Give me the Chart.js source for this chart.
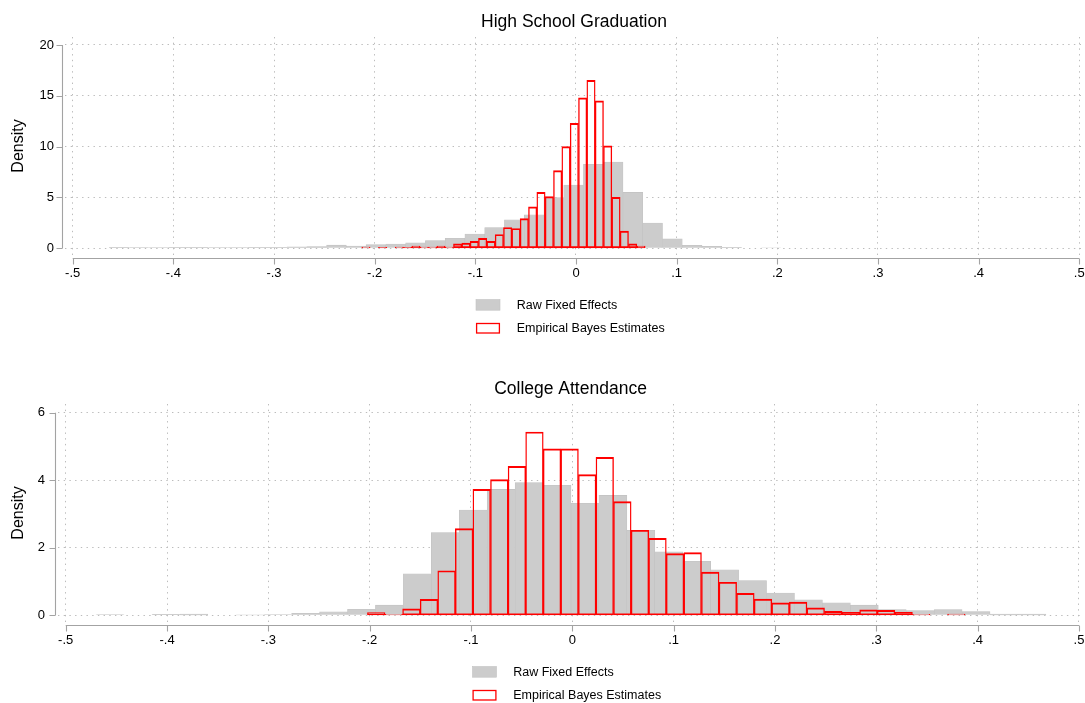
<!DOCTYPE html>
<html>
<head>
<meta charset="utf-8">
<title>School effects: raw vs. empirical Bayes</title>
<script src="https://cdn.jsdelivr.net/npm/chart.js@4.4.1/dist/chart.umd.min.js"></script>
<style>
  html, body { margin: 0; padding: 0; background: #ffffff; }
  #wrap { position: relative; width: 1085px; height: 703px; overflow: hidden; }
  .panel { position: absolute; left: 0; width: 1085px; }
  canvas { display: block; }
</style>
</head>
<body>
<div id="wrap">
  <div class="panel" style="top:0;height:367px"><canvas id="hsChart" width="1085" height="367"></canvas></div>
  <div class="panel" style="top:367px;height:336px"><canvas id="caChart" width="1085" height="336"></canvas></div>
</div>
<script>
// ---- axis ticks and labels ----
const xTickValues = [-0.5, -0.4, -0.3, -0.2, -0.1, 0, 0.1, 0.2, 0.3, 0.4, 0.5];
const xTickLabels = ['-.5', '-.4', '-.3', '-.2', '-.1', '0', '.1', '.2', '.3', '.4', '.5'];
const hsYTicks = [0, 5, 10, 15, 20];
const caYTicks = [0, 2, 4, 6];
const seriesLabels = ['Raw Fixed Effects', 'Empirical Bayes Estimates'];
const panelTitles = ['High School Graduation', 'College Attendance'];

// ---- High school graduation: 34 bins each ----
const hsRawStart = -0.4637, hsRawWidth = 0.01963;
const hsRawDensity = [0.10, 0.08, 0.06, 0.10, 0.10, 0.07, 0.08, 0.10, 0.10, 0.15,
                      0.17, 0.31, 0.22, 0.36, 0.42, 0.54, 0.77, 0.99, 1.41, 2.04,
                      2.79, 3.29, 4.98, 6.23, 8.26, 8.49, 5.50, 2.49, 0.92, 0.30,
                      0.20, 0.10, 0.00, 0.05];
const hsEbStart = -0.2128, hsEbWidth = 0.00828;
const hsEbDensity = [0.13, 0.00, 0.10, 0.00, 0.13, 0.10, 0.23, 0.13, 0.13, 0.23,
                     0.13, 0.43, 0.52, 0.68, 0.98, 0.69, 1.36, 2.05, 1.95, 2.93,
                     4.08, 5.51, 5.09, 7.64, 10.00, 12.30, 14.80, 16.52, 14.50, 10.07,
                     5.02, 1.70, 0.43, 0.23];

// ---- College attendance: 34 bins each ----
const caRawStart = -0.4700, caRawWidth = 0.02757;
const caRawDensity = [0.02, 0.00, 0.03, 0.04, 0.00, 0.01, 0.02, 0.06, 0.10, 0.18,
                      0.30, 1.23, 2.45, 3.12, 3.73, 3.93, 3.85, 3.32, 3.55, 2.52,
                      1.88, 1.60, 1.35, 1.03, 0.66, 0.46, 0.37, 0.30, 0.17, 0.14,
                      0.17, 0.11, 0.04, 0.04];
const caEbStart = -0.2022, caEbWidth = 0.01735;
const caEbDensity = [0.08, 0.03, 0.19, 0.47, 1.32, 2.57, 3.73, 4.02, 4.41, 5.43,
                     4.93, 4.93, 4.17, 4.68, 3.37, 2.52, 2.28, 1.83, 1.86, 1.28,
                     0.98, 0.65, 0.48, 0.37, 0.39, 0.22, 0.12, 0.09, 0.16, 0.15,
                     0.09, 0.03, 0.00, 0.04];

// ---- styling ----
const FONT = '"Liberation Sans", Arial, Helvetica, sans-serif';
const rawFill = '#cccccc';
const rawEdge = '#c2c2c2';
const ebEdge = '#ff0000';
const gridColor = '#bcbcbc';
const axisColor = '#a3a3a3';

Chart.defaults.font.family = FONT;
Chart.defaults.color = '#000000';

// Histogram bars are placed at bin midpoints on a linear x scale.
function binPoints(start, width, dens) {
  return dens.map((d, i) => ({ x: start + (i + 0.5) * width, y: d }));
}

// Detached axis lines with outward tick marks, spanning only the labelled range.
const detachedAxes = {
  id: 'detachedAxes',
  afterDraw(chart, args, opts) {
    const { ctx, chartArea: a } = chart;
    const xs = chart.scales.x, ys = chart.scales.y;
    const yv = ys.ticks.map(t => t.value);
    const xv = xs.ticks.map(t => t.value);
    ctx.save();
    ctx.strokeStyle = opts.color;
    ctx.lineWidth = 1.1;
    ctx.beginPath();
    const ax = Math.round(a.left - opts.gap) - 0.5;
    ctx.moveTo(ax, ys.getPixelForValue(yv[0]));
    ctx.lineTo(ax, ys.getPixelForValue(yv[yv.length - 1]));
    yv.forEach(v => {
      const p = Math.round(ys.getPixelForValue(v)) + 0.5;
      ctx.moveTo(ax, p);
      ctx.lineTo(ax - opts.tick, p);
    });
    const ay = Math.round(a.bottom + opts.gapX) + 0.5;
    ctx.moveTo(xs.getPixelForValue(xv[0]), ay);
    ctx.lineTo(xs.getPixelForValue(xv[xv.length - 1]), ay);
    xv.forEach(v => {
      const p = Math.round(xs.getPixelForValue(v)) + 0.5;
      ctx.moveTo(p, ay);
      ctx.lineTo(p, ay + opts.tick);
    });
    ctx.stroke();
    ctx.restore();
  }
};

// Two-row key under the plot: filled swatch for raw effects, outlined swatch for EB estimates.
const stackedKey = {
  id: 'stackedKey',
  afterDraw(chart, args, opts) {
    const { ctx, chartArea: a } = chart;
    const ds = chart.data.datasets;
    const left = (a.left + a.right) / 2 - opts.shift;
    ctx.save();
    ctx.font = opts.fontSize + 'px ' + FONT;
    ctx.textBaseline = 'middle';
    ctx.textAlign = 'left';
    ds.forEach((d, i) => {
      const top = a.bottom + opts.offset + i * opts.rowGap;
      if (i === 0) {
        ctx.fillStyle = d.backgroundColor;
        ctx.fillRect(left, top, opts.boxW, opts.boxH);
        ctx.strokeStyle = d.borderColor;
        ctx.lineWidth = 0.6;
        ctx.strokeRect(left, top, opts.boxW, opts.boxH);
      } else {
        ctx.fillStyle = '#ffffff';
        ctx.fillRect(left, top, opts.boxW, opts.boxH);
        ctx.strokeStyle = d.borderColor;
        ctx.lineWidth = 1.3;
        ctx.strokeRect(left + 0.6, top + 0.6, opts.boxW - 1.2, opts.boxH - 1.2);
      }
      ctx.fillStyle = '#000';
      ctx.fillText(d.label, left + opts.textGap, top + opts.boxH / 2 + 0.5);
    });
    ctx.restore();
  }
};

function makePanel(canvasId, cfg) {
  const xCommon = {
    type: 'linear',
    min: cfg.xMin,
    max: cfg.xMax,
    offset: false,
  };
  return new Chart(document.getElementById(canvasId), {
    type: 'bar',
    data: {
      datasets: [
        {
          label: seriesLabels[0],
          data: binPoints(cfg.raw.start, cfg.raw.width, cfg.raw.dens),
          xAxisID: 'x',
          backgroundColor: rawFill,
          borderColor: rawEdge,
          borderWidth: 0.6,
          grouped: false,
          barPercentage: 1,
          categoryPercentage: 1,
          order: 2
        },
        {
          label: seriesLabels[1],
          data: binPoints(cfg.eb.start, cfg.eb.width, cfg.eb.dens),
          xAxisID: 'xEb',
          backgroundColor: 'rgba(255,255,255,0)',
          borderColor: ebEdge,
          borderWidth: { top: 1.3, bottom: 1.1, left: 0.75, right: 0.75 },
          borderSkipped: false,
          grouped: false,
          barPercentage: 1,
          categoryPercentage: 1,
          order: 1
        }
      ]
    },
    options: {
      responsive: false,
      animation: false,
      events: [],
      layout: { autoPadding: false, padding: { left: 0, right: 2, top: 0, bottom: 0 } },
      scales: {
        x: Object.assign({}, xCommon, {
          position: 'bottom',
          afterBuildTicks: s => { s.ticks = xTickValues.map(v => ({ value: v })); },
          afterFit: s => {
            s.height = cfg.xAxisH;
            s.paddingLeft = 0; s.paddingRight = 0;
          },
          grid: { color: gridColor, lineWidth: 1, drawTicks: false, offset: false },
          border: { display: false, dash: [1.4, 4.3] },
          ticks: {
            autoSkip: false, maxRotation: 0, padding: 10.2,
            font: { size: 13 }, color: '#000',
            callback: (v, i) => xTickLabels[i]
          }
        }),
        xEb: Object.assign({}, xCommon, {
          display: false, position: 'bottom', grid: { display: false },
          afterFit: s => { s.paddingLeft = 0; s.paddingRight = 0; }
        }),
        y: {
          type: 'linear',
          position: 'left',
          min: cfg.yMin,
          max: cfg.yMax,
          afterBuildTicks: s => { s.ticks = cfg.yTicks.map(v => ({ value: v })); },
          afterFit: s => {
            s.width = cfg.yAxisW;
            s.paddingTop = 0; s.paddingBottom = 0;
          },
          grid: { color: gridColor, lineWidth: 1, drawTicks: false },
          border: { display: false, dash: [1.4, 4.3] },
          ticks: { padding: cfg.yLabelPad, font: { size: 13 }, color: '#000', callback: v => String(v) },
          title: { display: true, text: 'Density', font: { size: 16 }, color: '#000', padding: { top: 8.7, bottom: 0 } }
        }
      },
      plugins: {
        legend: { display: false },
        tooltip: { enabled: false },
        title: {
          display: true, text: cfg.title, fullSize: false,
          font: { size: 17.5, weight: 'normal' }, color: '#000',
          padding: { top: 12, bottom: 4 }
        },
        detachedAxes: { color: axisColor, gap: 2.5, gapX: 3.3, tick: 6 },
        stackedKey: { shift: 98, offset: 44.5, rowGap: 23.4, boxW: 24, boxH: 10.7, textGap: 40.7, fontSize: 12.5 }
      }
    },
    plugins: [detachedAxes, stackedKey]
  });
}

makePanel('hsChart', {
  title: panelTitles[0],
  raw: { start: hsRawStart, width: hsRawWidth, dens: hsRawDensity },
  eb: { start: hsEbStart, width: hsEbWidth, dens: hsEbDensity },
  xMin: -0.50765, xMax: 0.50368,
  yMin: -0.659, yMax: 20.787, yTicks: hsYTicks,
  yAxisW: 65, yLabelPad: 11, xAxisH: 112
});

makePanel('caChart', {
  title: panelTitles[1],
  raw: { start: caRawStart, width: caRawWidth, dens: caRawDensity },
  eb: { start: caEbStart, width: caEbWidth, dens: caEbDensity },
  xMin: -0.5076, xMax: 0.5040,
  yMin: -0.198, yMax: 6.258, yTicks: caYTicks,
  yAxisW: 58, yLabelPad: 13, xAxisH: 81
});
</script>
</body>
</html>
